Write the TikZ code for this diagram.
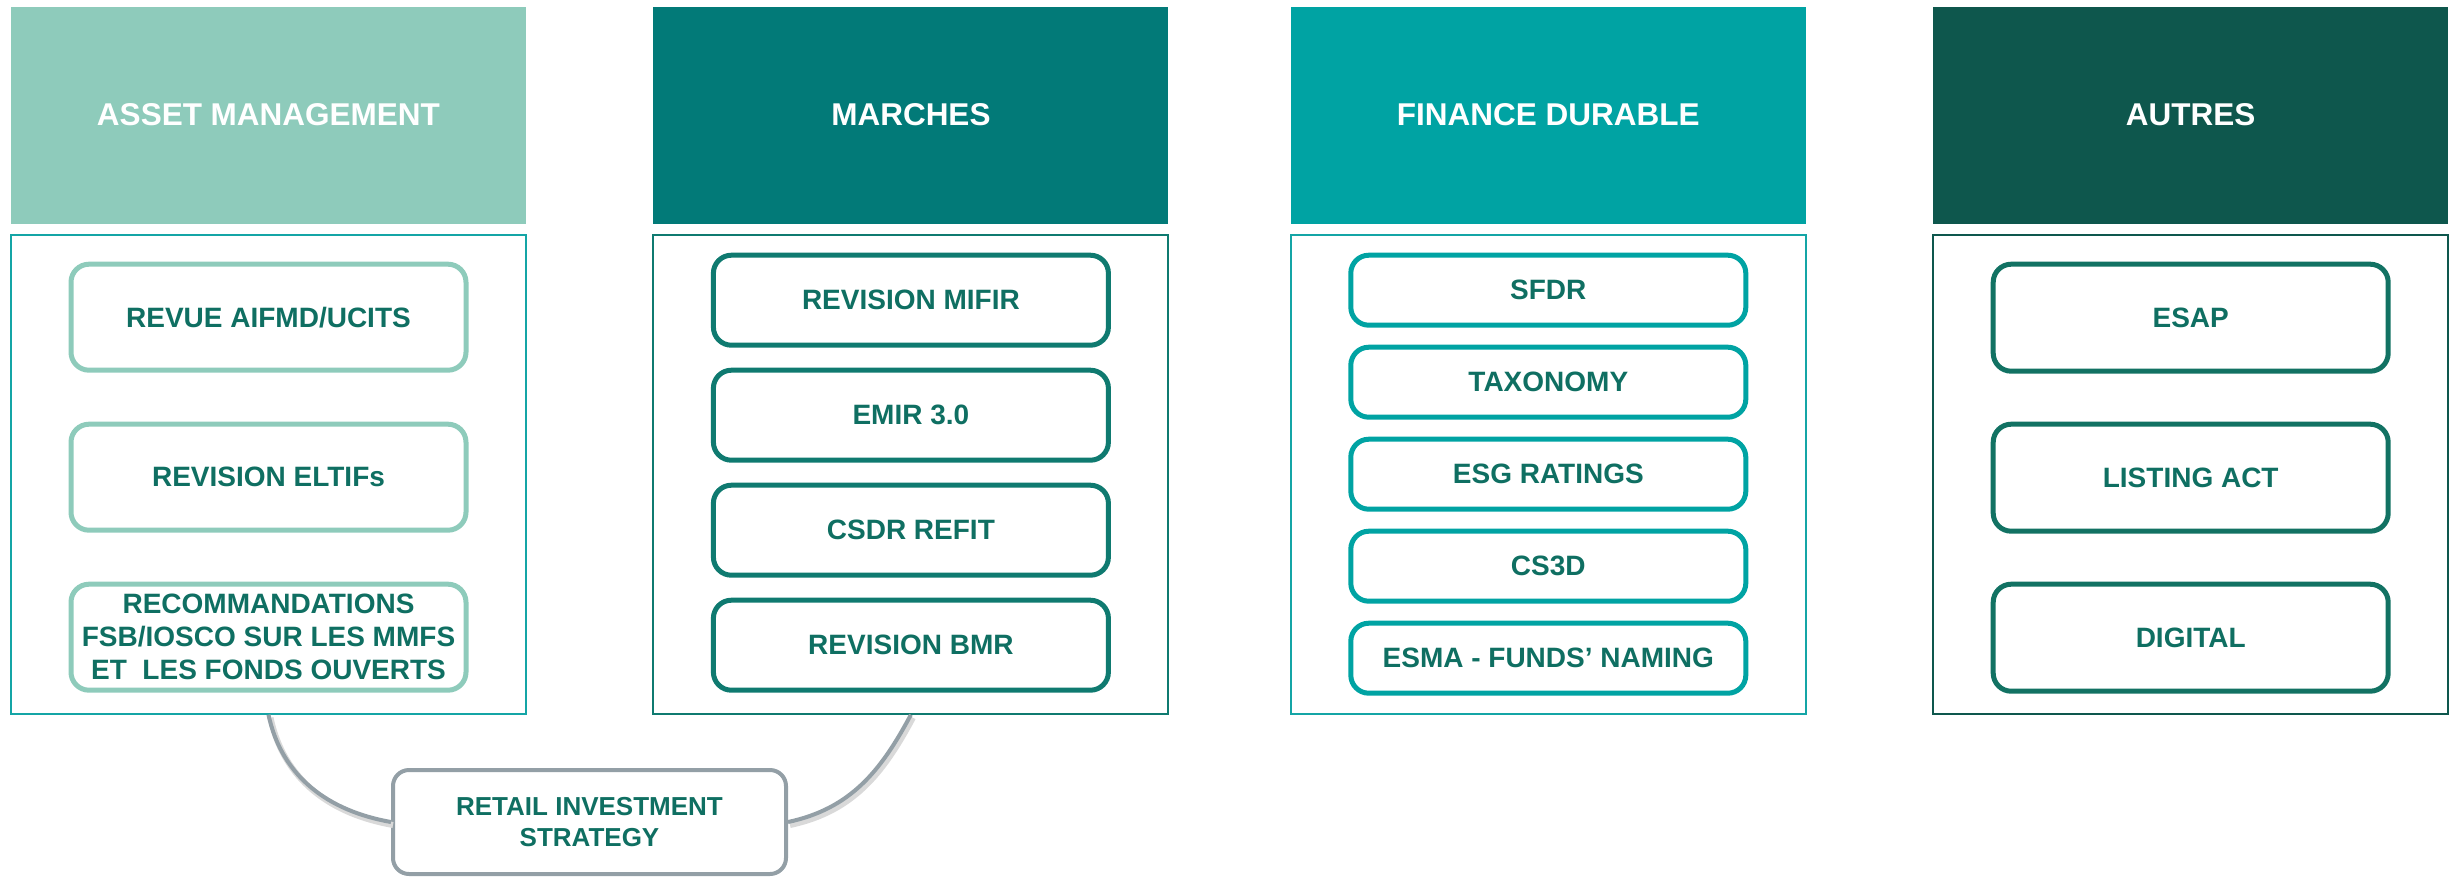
\documentclass[tikz,border=0pt]{standalone}
\usepackage{fontspec}
\setmainfont{Liberation Sans}
\usetikzlibrary{positioning}
\definecolor{amgreen}{HTML}{8ECBBB}
\definecolor{mkteal}{HTML}{027A78}
\definecolor{fdcyan}{HTML}{00A3A3}
\definecolor{audark}{HTML}{0E574D}
\definecolor{framecyan}{HTML}{14A5A6}
\definecolor{mkline}{HTML}{0F7A70}
\definecolor{auline}{HTML}{127263}
\definecolor{itemtext}{HTML}{0F6F62}
\definecolor{linkgray}{HTML}{939FA6}
\begin{document}
\begin{tikzpicture}[x=1pt, y=-1pt,
		head/.style={rectangle, minimum width=515pt, minimum height=217pt, text=white, font=\fontsize{31.5}{36}\selectfont\bfseries},
		frame/.style={rectangle, draw, line width=2pt, minimum width=515pt, minimum height=479pt},
		item/.style={rectangle, rounded corners=18pt, draw, line width=5pt, fill=white, minimum width=395pt, align=center, text=itemtext, font=\fontsize{28}{33}\selectfont\bfseries},
		amitem/.style={item, draw=amgreen, minimum height=106pt},
		mkitem/.style={item, draw=mkline, minimum height=90pt},
		fditem/.style={item, draw=fdcyan, minimum height=70pt},
		auitem/.style={item, draw=auline, minimum height=107pt},
		link/.style={draw=linkgray, line width=4pt, preaction={draw=black!15, line width=6pt, transform canvas={xshift=2pt, yshift=-3pt}}}
	]
	\path[use as bounding box] (0,0) rectangle (2453,879);
	\node[head, fill=amgreen] (amhead) at (268.5,115) {ASSET MANAGEMENT};
	\node[head, fill=mkteal] (mkhead) [right=127pt of amhead] {MARCHES};
	\node[head, fill=fdcyan] (fdhead) [right=122pt of mkhead] {FINANCE DURABLE};
	\node[head, fill=audark] (auhead) [right=127pt of fdhead] {AUTRES};
	\node[frame, draw=framecyan] (amframe) [below=10pt of amhead] {};
	\node[frame, draw=mkline] (mkframe) [below=10pt of mkhead] {};
	\node[frame, draw=framecyan] (fdframe) [below=10pt of fdhead] {};
	\node[frame, draw=audark] (auframe) [below=10pt of auhead] {};
	\node[amitem] (amone) [below=28pt of amframe.north] {REVUE AIFMD/UCITS};
	\node[amitem] (amtwo) [below=49pt of amone] {REVISION ELTIFs};
	\node[amitem] (amthree) [below=49pt of amtwo] {RECOMMANDATIONS\\FSB/IOSCO SUR LES MMFS\\ET\ \ LES FONDS OUVERTS};
	\node[mkitem] (mkone) [below=19pt of mkframe.north] {REVISION MIFIR};
	\node[mkitem] (mktwo) [below=20pt of mkone] {EMIR 3.0};
	\node[mkitem] (mkthree) [below=20pt of mktwo] {CSDR REFIT};
	\node[mkitem] (mkfour) [below=20pt of mkthree] {REVISION BMR};
	\node[fditem] (fdone) [below=19pt of fdframe.north] {SFDR};
	\node[fditem] (fdtwo) [below=17pt of fdone] {TAXONOMY};
	\node[fditem] (fdthree) [below=17pt of fdtwo] {ESG RATINGS};
	\node[fditem] (fdfour) [below=17pt of fdthree] {CS3D};
	\node[fditem] (fdfive) [below=17pt of fdfour] {ESMA - FUNDS’ NAMING};
	\node[auitem] (auone) [below=28pt of auframe.north] {ESAP};
	\node[auitem] (autwo) [below=48pt of auone] {LISTING ACT};
	\node[auitem] (authree) [below=48pt of autwo] {DIGITAL};
	\node[item, draw=linkgray, line width=4pt, rounded corners=16pt, minimum width=393pt, minimum height=104pt, font=\fontsize{26}{31}\selectfont\bfseries] (retail) at (589.5,822) {RETAIL INVESTMENT\\STRATEGY};
	\draw[link] (amframe.south) to[out=-78, in=170] (retail.west);
	\draw[link] (mkframe.south) to[out=-118, in=12] (retail.east);
\end{tikzpicture}
\end{document}
